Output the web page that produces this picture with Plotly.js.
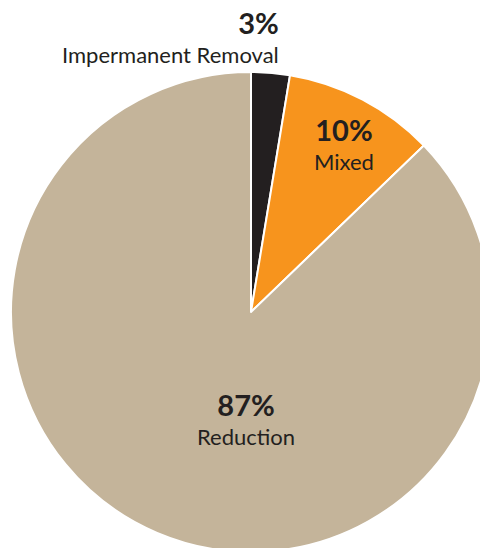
<!DOCTYPE html>
<html>
<head>
<meta charset="utf-8">
<script src="https://cdn.plot.ly/plotly-3.0.1.min.js"></script>
<style>
html,body{margin:0;padding:0;width:480px;height:548px;overflow:hidden;background:#fff;}
#chart{width:502px;height:552px;}
</style>
</head>
<body>
<div id="chart"></div>
<script>
var categories = ["Impermanent Removal", "Mixed", "Reduction"];
var values = [2.6, 10.2, 87.2];
var percentLabels = ["3%", "10%", "87%"];
var colors = ["#231f20", "#f7941d", "#c4b49a"];

// label layout in page pixels: [x, top, anchor]
var labelLayout = [
  [281, 3, 'right'],
  [344, 110, 'center'],
  [246, 385, 'center']
];

var W = 502, H = 552, ml = 11, mt = 72, pw = 480, ph = 480;
function px(x){ return (x - ml) / pw; }
function py(y){ return (mt + ph - y) / ph; }

var annotations = [];
for (var i = 0; i < categories.length; i++) {
  var L = labelLayout[i];
  annotations.push({
    xref: 'paper', yref: 'paper', x: px(L[0]), y: py(L[1]),
    xanchor: L[2], yanchor: 'top', showarrow: false, align: L[2] === 'right' ? 'right' : 'center',
    text: '<span style="font-size:29px"><b>' + percentLabels[i] + '</b></span><br>' + categories[i],
    font: {family: 'Lato, sans-serif', size: 22, color: '#231f20'}
  });
}

var trace = {
  type: 'pie',
  labels: categories,
  values: values,
  sort: false,
  direction: 'clockwise',
  rotation: 0,
  marker: {colors: colors, line: {color: '#ffffff', width: 2}},
  textinfo: 'none',
  hoverinfo: 'label+percent',
  showlegend: false
};

var layout = {
  width: W, height: H,
  margin: {l: ml, r: W - ml - pw, t: mt, b: H - mt - ph, pad: 0},
  paper_bgcolor: '#ffffff',
  plot_bgcolor: '#ffffff',
  showlegend: false,
  annotations: annotations
};

Plotly.newPlot('chart', [trace], layout, {displayModeBar: false, staticPlot: true});
</script>
</body>
</html>
